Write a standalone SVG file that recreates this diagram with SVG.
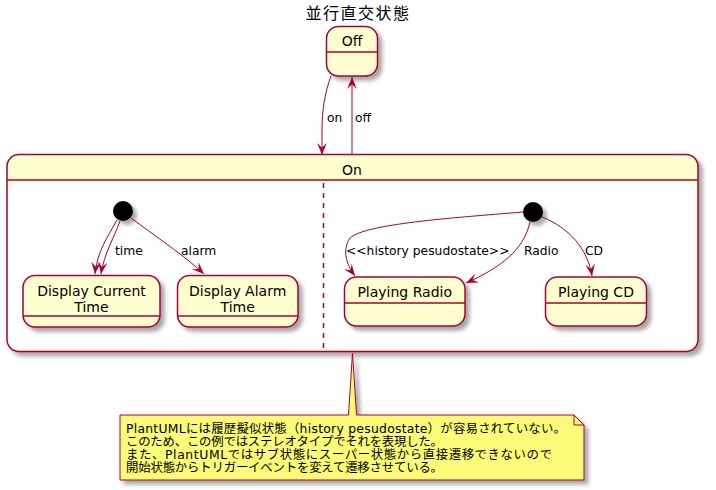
<svg xmlns="http://www.w3.org/2000/svg" width="716" height="490" viewBox="0 0 716 490">
<defs>
<filter id="sh" x="-20%" y="-20%" width="150%" height="150%">
<feGaussianBlur in="SourceAlpha" stdDeviation="2"/>
<feOffset dx="4" dy="4" result="o"/>
<feComponentTransfer in="o" result="s"><feFuncA type="linear" slope="0.35"/></feComponentTransfer>
<feMerge><feMergeNode in="s"/><feMergeNode in="SourceGraphic"/></feMerge>
</filter>
<marker id="ah" markerUnits="userSpaceOnUse" markerWidth="12" markerHeight="10" viewBox="0 0 10 8" refX="10" refY="4" orient="auto">
<path d="M0,0 L10,4 L0,8 L4,4 Z" fill="#A80036"/>
</marker>
</defs>
<style>
.st{fill:#FEFECE;stroke:#A80036;stroke-width:1.5}
.ln{stroke:#A80036;stroke-width:1.5;fill:none}
.e{stroke:#A80036;stroke-width:1;fill:none;marker-end:url(#ah)}
.t{font-family:"DejaVu Sans","Noto Sans CJK JP",sans-serif;font-size:14px;fill:#000;text-anchor:middle}
.l{font-family:"DejaVu Sans","Noto Sans CJK JP",sans-serif;font-size:12.3px;fill:#000}
.n{font-family:"DejaVu Sans","Noto Sans CJK JP",sans-serif;font-size:12.4px;fill:#000}
</style>
<text x="358" y="19" style="font-family:'Noto Sans CJK JP',sans-serif;font-size:16px;letter-spacing:1.5px;text-anchor:middle">並行直交状態</text>

<g id="On">
<rect class="st" x="7" y="154.5" width="691" height="197" rx="12" filter="url(#sh)"/>
<line class="ln" x1="7" y1="180" x2="698" y2="180"/>
<rect x="8.5" y="182" width="687" height="167" rx="8" fill="#FFFFFF"/>
<line x1="323.5" y1="183" x2="323.5" y2="349" stroke="#A80036" stroke-width="1.5" stroke-dasharray="5,5"/>
<text class="t" x="352" y="175">On</text>
</g>

<g id="Off">
<rect class="st" x="326.5" y="26.5" width="51" height="49.5" rx="12" filter="url(#sh)"/>
<line class="ln" x1="326.5" y1="52" x2="377.5" y2="52"/>
<text class="t" x="352" y="46">Off</text>
</g>

<g id="init1"><circle cx="123" cy="211" r="10" fill="#000" filter="url(#sh)"/></g>
<g id="init2"><circle cx="533" cy="212" r="10" fill="#000" filter="url(#sh)"/></g>

<g id="DisplayCurrentTime">
<rect class="st" x="23" y="275.5" width="137" height="51.5" rx="12" filter="url(#sh)"/>
<line class="ln" x1="23" y1="316" x2="160" y2="316"/>
<text class="t" x="91.5" y="296">Display Current</text>
<text class="t" x="91.5" y="312">Time</text>
</g>

<g id="DisplayAlarmTime">
<rect class="st" x="177.5" y="275.5" width="120.5" height="51.5" rx="12" filter="url(#sh)"/>
<line class="ln" x1="177.5" y1="316" x2="298" y2="316"/>
<text class="t" x="237.7" y="296">Display Alarm</text>
<text class="t" x="237.7" y="312">Time</text>
</g>

<g id="PlayingRadio">
<rect class="st" x="344.5" y="277" width="120.5" height="49" rx="12" filter="url(#sh)"/>
<line class="ln" x1="344.5" y1="303" x2="465" y2="303"/>
<text class="t" x="404.7" y="297">Playing Radio</text>
</g>

<g id="PlayingCD">
<rect class="st" x="545.5" y="277" width="101" height="49" rx="12" filter="url(#sh)"/>
<line class="ln" x1="545.5" y1="303" x2="646.5" y2="303"/>
<text class="t" x="596" y="297">Playing CD</text>
</g>

<g id="note">
<path d="M120,415 L348.5,415 L352.5,353 L356.5,415 L574,415 L584,425 L584,480 L120,480 Z" fill="#FBFB77" stroke="#A80036" stroke-width="1" filter="url(#sh)"/>
<path d="M574,415 L574,425 L584,425" fill="none" stroke="#A80036" stroke-width="1"/>
<text class="n" x="126" y="433" textLength="440" lengthAdjust="spacing">PlantUMLには履歴擬似状態（history pesudostate）が容易されていない。</text>
<text class="n" x="126" y="446" textLength="317" lengthAdjust="spacing">このため、この例ではステレオタイプでそれを表現した。</text>
<text class="n" x="126" y="459" textLength="426" lengthAdjust="spacing">また、PlantUMLではサブ状態にスーパー状態から直接遷移できないので</text>
<text class="n" x="126" y="472" textLength="317" lengthAdjust="spacing">開始状態からトリガーイベントを変えて遷移させている。</text>
</g>

<g id="edges">
<path class="e" d="M331,76 C325,92 322,110 322,130 L322,155"/>
<path class="e" d="M352,155 L352,77"/>
<path class="e" d="M117,220 C108,236 97,252 95,274"/>
<path class="e" d="M120,221 C114,238 104,254 101,274"/>
<path class="e" d="M131,218 C155,236 185,256 204,274"/>
<path class="e" d="M523,212 C450,218 365,224 350,238 C342,250 346,264 355,276"/>
<path class="e" d="M530,222 C524,250 500,268 466,283"/>
<path class="e" d="M542,217 C570,228 588,250 592,276"/>
<text class="l" x="327" y="122">on</text>
<text class="l" x="355" y="122">off</text>
<text class="l" x="115" y="255">time</text>
<text class="l" x="181" y="255">alarm</text>
<text class="l" x="346" y="255">&lt;&lt;history pesudostate&gt;&gt;</text>
<text class="l" x="524" y="255">Radio</text>
<text class="l" x="585" y="255">CD</text>
</g>
</svg>
